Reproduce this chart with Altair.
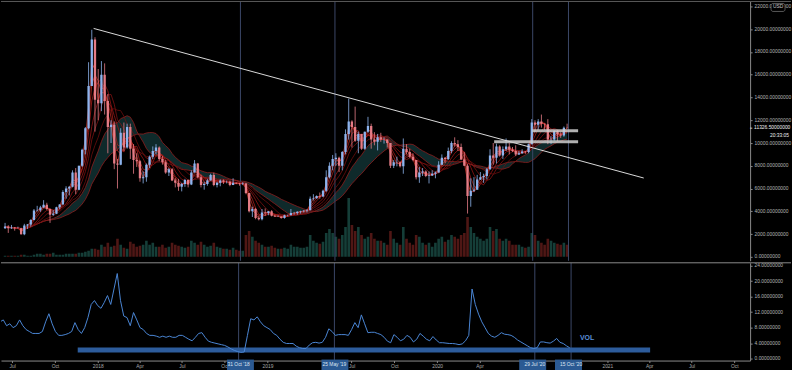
import altair as alt
import pandas as pd

# ---------------- data (weekly) ----------------
week_start = "2017-06-05"
first_open = 2500
closes = [
    2660, 2500, 2580, 2500, 2520, 1980, 2750, 2850, 3230, 4060, 4100, 4330, 4580, 4200, 3700,
    3780, 4360, 4600, 5700, 6000, 6150, 7400, 5900, 8000, 9400, 11300, 15000, 19100, 13800, 13500,
    16000, 13700, 11400, 11600, 8200, 8100, 10900, 9600, 11400, 9500, 8500, 8400, 6900, 7000, 8100,
    8800, 9300, 9600, 8600, 8300, 7400, 7700, 6700, 6500, 6150, 6400, 6750, 6350, 7400, 8200,
    7000, 6300, 6400, 6700, 7200, 6300, 6500, 6700, 6600, 6600, 6300, 6500, 6450, 6400, 6450,
    5600, 4000, 4200, 3400, 3300, 3900, 3850,
    4000, 3600, 3550, 3550, 3400, 3650, 3650, 3850, 3850, 3950, 4000, 4050, 4100, 5100, 5150,
    5350, 5300, 5800, 7000, 8000, 8600, 8700, 8000, 9200, 10800, 11900, 11400, 10200, 10800, 9500,
    11000, 11500, 10300, 10100, 10500, 10300, 10300, 10000, 8000, 8300, 8300, 7950, 9500, 9200, 8800,
    8500, 7000, 7400, 7500, 7100, 7150, 7300,
    7400, 8100, 8700, 8600, 9300, 10000, 9900, 9650, 8550, 8000, 5350, 5800, 5900, 6800, 7000,
    7100, 7700, 8900, 8700, 9700, 8900, 9450, 9700, 9400, 9300, 9000, 9100, 9250, 9200, 9900,
    11800, 11600, 11900, 11700, 11650, 10300, 10300, 11050, 10750, 10650, 11350, 11326.5,
]
highs = [
    2980, 2780, 2800, 2620, 2650, 2550, 2900, 2880, 3300, 4200, 4480, 4480, 4980, 4750, 4250,
    4100, 4400, 4620, 5850, 6200, 6200, 7600, 7800, 8000, 9500, 11400, 17100, 19950, 19300, 16500,
    17200, 17000, 14300, 12000, 11900, 8600, 11300, 11800, 11700, 11700, 9900, 9100, 8500, 7500, 8200,
    8900, 9700, 9900, 9700, 8850, 8500, 7800, 7800, 6900, 6850, 6500, 6850, 6800, 7600, 8500,
    8250, 7200, 6600, 6850, 7300, 7400, 6600, 6800, 6800, 6700, 6700, 6900, 6520, 6500, 6550,
    6500, 5600, 4400, 4300, 3600, 4200, 4250,
    4000, 4100, 3700, 3650, 3550, 3700, 3700, 4200, 3950, 4000, 4050, 4100, 4200, 5300, 5500,
    5400, 5650, 5900, 7600, 8300, 8950, 9100, 8800, 9300, 11200, 13900, 12000, 13200, 11000, 10800,
    11000, 12300, 11700, 10950, 10800, 10900, 10500, 10300, 10000, 8500, 8800, 8400, 10400, 9900, 9500,
    9100, 8500, 7900, 7800, 7600, 7500, 7600,
    7500, 8400, 9000, 8750, 9600, 10150, 10500, 10250, 9950, 9200, 8150, 6900, 7000, 7200, 7450,
    7300, 7800, 9450, 10000, 9950, 9800, 9700, 10400, 10000, 9650, 9800, 9300, 9450, 9300, 9950,
    12100, 12000, 12100, 12500, 11700, 12100, 10600, 11100, 11150, 10950, 11450, 11700,
]
lows = [
    2450, 2100, 2450, 2300, 2480, 1950, 1900, 2450, 2650, 3200, 3980, 3950, 4300, 4100, 2980,
    3600, 3750, 4180, 4600, 5100, 5400, 6100, 5500, 5850, 7900, 9000, 11200, 15000, 11000, 12000,
    12800, 12500, 9100, 10000, 7700, 6000, 8050, 9300, 9500, 8600, 7300, 7900, 6600, 6450, 6600,
    7800, 8600, 9000, 8400, 8100, 7300, 7100, 6650, 6100, 5800, 5750, 6150, 6100, 6300, 7400,
    6900, 6100, 5900, 6250, 6700, 6200, 6100, 6200, 6400, 6450, 6200, 6300, 6400, 6250, 6300,
    5500, 3900, 3500, 3300, 3200, 3200, 3600,
    3650, 3550, 3500, 3500, 3350, 3350, 3550, 3650, 3700, 3700, 3800, 3900, 3900, 4100, 4950,
    5100, 5100, 5250, 5700, 6900, 7600, 8000, 7450, 7600, 9000, 10300, 9600, 10100, 9100, 9400,
    9400, 10900, 9500, 9800, 9350, 10100, 9950, 9600, 7800, 7800, 7950, 7850, 7300, 9000, 8700,
    8400, 6800, 6500, 7100, 7000, 6450, 7100,
    6900, 7400, 8100, 8250, 8500, 9100, 9700, 9300, 8500, 8000, 3800, 4400, 5700, 5900, 6750,
    6500, 6800, 7650, 8100, 8200, 8800, 8600, 9300, 9000, 9200, 8850, 8950, 9050, 9050, 9100,
    9900, 10950, 11150, 11350, 11150, 9900, 9900, 10200, 10150, 10450, 10550, 11250,
]
# volume (relative units)
volumes = [
    1, 1, 1, 1, 1, 2, 2, 1, 1, 2, 3, 3, 2, 3, 3, 4, 2, 2, 2, 3, 3, 3, 3, 4, 4, 5, 6, 8, 8, 7,
    12, 10, 14, 10, 11, 18, 12, 9, 8, 15, 13, 10, 11, 12, 16, 12, 14, 10, 10, 12, 9, 10,
    14, 12, 11, 10, 9, 10, 16, 14, 12, 15, 12, 10, 11, 14, 10, 9, 8, 8, 7, 9, 7, 6, 6, 22, 26, 20, 16, 14, 12, 10,
    10, 11, 9, 8, 8, 9, 8, 12, 10, 10, 9, 9, 10, 22, 16, 14, 13, 15, 24, 28, 24, 20,
    18, 22, 30, 59, 32, 26, 30, 22, 18, 20, 24, 18, 16, 16, 14, 12, 26, 18, 14, 12, 30, 18, 14, 12, 22, 20, 14, 12, 14, 10,
    14, 18, 20, 15, 17, 22, 20, 18, 22, 24, 40, 30, 24, 20, 18, 16, 18, 30, 26, 28, 18, 16,
    18, 16, 12, 12, 12, 10, 9, 10, 24, 22, 16, 14, 12, 18, 16, 14, 13, 12, 14, 12,
]
# historical volatility (lower pane)
hist_vol = [
    9.5, 10, 8.5, 9, 8, 8.5, 10, 8.5, 7.5, 7, 6.5, 6.5, 6.5, 7, 9.5, 11.6, 9, 7, 6, 6, 6.2, 6.5, 7, 9.3, 7.5, 6.5, 8, 10.6, 14, 15,
    13.7, 13, 14.5, 16.3, 14, 18, 22, 15, 11, 10.6, 8.5, 11.9, 10, 8, 7.5, 6.5, 6, 6, 5.8, 5.5, 5.8, 5.5,
    5.8, 5.5, 5.5, 6, 6, 5.5, 5, 4.6, 5.5, 6.5, 6.7, 5.5, 4.5, 4.2, 4, 3.8, 3.6, 3.4, 3, 2.5, 2.1, 1.8, 1.6, 1.7, 6, 10.3, 10, 10.8, 9.5, 8.5,
    8, 7.5, 6.5, 6, 5, 4.2, 3.9, 3.9, 3.9, 3.2, 2.8, 2.6, 2.6, 3.5, 4.1, 4.2, 4, 4.2, 5.5, 7.7, 7, 6,
    6.2, 6.2, 6.2, 6, 7.5, 9.3, 8, 11.3, 9, 6.7, 6.8, 6.8, 6.5, 6.2, 5.5, 4.5, 4.1, 6.2, 5.5, 4.6, 5, 6, 5.5, 4.3, 5, 6.5, 5.8, 5, 4.6, 5.7,
    4.8, 4.1, 4.1, 4, 3.9, 3.9, 3.8, 3.6, 3.8, 4.6, 6, 18, 14, 11.5, 9.5, 8, 6.5, 5.8, 5.5, 6, 6.7, 6.3,
    6.2, 6, 5.5, 4.8, 4.3, 3.8, 3.3, 2.8, 2.6, 2.8, 4.3, 4.3, 4.1, 4, 4.5, 5.2, 4.2, 3.9, 3.3, 2.8,
]

trend_dates = ["2017-12-15", "2021-03-28"]
trend_prices = [20070, 6924]

zone_starts = ["2020-07-28", "2020-05-06"]
zone_ends = ["2020-11-05", "2020-11-05"]
zone_lows = [10950, 9990]
zone_highs = [11220, 10250]

marker_dates = ["2018-10-31", "2019-05-25", "2020-07-29", "2020-10-15"]
marker_labels = ["31 Oct '18", "25 May '19", "29 Jul '20", "15 Oct '20"]

band_start, band_end = "2017-11-19", "2021-04-03"
band_low, band_high = 1.55, 2.84

price_ticks = list(range(0, 22001, 2000))
vol_ticks = [0, 4, 8, 12, 16, 20, 24]
# quarter ticks left visible (the ones under the date badges are covered)
time_ticks = [(2017, 7), (2017, 10), (2018, 1), (2018, 4), (2018, 7), (2018, 10),
              (2019, 1), (2019, 7), (2019, 10), (2020, 1), (2020, 4),
              (2021, 1), (2021, 4), (2021, 7), (2021, 10)]

last_price = 11326.5
last_price_label = "11326.50000000"
countdown = "20:33:05"

# ---------------- tables ----------------
dates = pd.date_range(week_start, periods=len(closes), freq="7D")
opens = [first_open] + closes[:-1]
df = pd.DataFrame({"date": dates, "open": opens, "high": highs, "low": lows,
                   "close": closes, "volume": volumes, "hv": hist_vol})
trend_df = pd.DataFrame({"date": pd.to_datetime(trend_dates), "price": trend_prices})
zone_df = pd.DataFrame({"start": pd.to_datetime(zone_starts), "end": pd.to_datetime(zone_ends),
                        "lo": zone_lows, "hi": zone_highs})
mark_df = pd.DataFrame({"date": pd.to_datetime(marker_dates), "label": marker_labels})
band_df = pd.DataFrame({"start": [pd.Timestamp(band_start)], "end": [pd.Timestamp(band_end)],
                        "lo": [band_low], "hi": [band_high]})
last_df = pd.DataFrame({"price": [last_price], "label": [last_price_label], "cd": [countdown]})
vol_label_df = pd.DataFrame({"date": [pd.Timestamp("2020-11-03")], "v": [5.2], "t": ["VOL"]})
ptick_df = pd.DataFrame({"v": price_ticks})
htick_df = pd.DataFrame({"v": vol_ticks})

W = 751
H_TOP = 260
H_BOT = 98
FONT = "Liberation Sans"
AX = "#8a8a8a"
LAB = "#b4b4b4"
FS = 4.9


def xscale():
    return alt.Scale(domain=[alt.DateTime(year=2017, month=6, date=7),
                             alt.DateTime(year=2021, month=11, date=4)])


def pscale():
    return alt.Scale(domain=[-351, 22438], nice=False, zero=False)


def hscale():
    return alt.Scale(domain=[-0.516, 24.774], nice=False, zero=False)


vscale = alt.Scale(domain=[-4, 256], nice=False, zero=False)


def XT(field="date:T"):
    return alt.X(field, scale=xscale(), axis=None)


def PY(field):
    return alt.Y(field, scale=pscale(), axis=None)


def HY(field):
    return alt.Y(field, scale=hscale(), axis=None)


# ---------------- price pane ----------------
price_axis = alt.Chart(ptick_df).mark_point(opacity=0, size=1).encode(
    x=alt.value(0),
    y=alt.Y("v:Q", scale=pscale(), axis=alt.Axis(
        orient="right", values=price_ticks, format=".8f", title=None, zindex=0,
        labelColor=LAB, labelFont=FONT, labelFontSize=FS, tickColor=AX, tickSize=2,
        domainColor=AX, labelPadding=2, grid=False)))

base = alt.Chart(df)
for k in [2, 3, 4, 6, 8, 11, 14, 22]:
    base = base.transform_window(**{f"ma{k}": "mean(close)"}, frame=[-(k - 1), 0],
                                 sort=[alt.SortField("date", order="ascending")])

cloud = base.mark_area(color="#112f30", opacity=0.9, clip=True).encode(
    x=XT(), y=PY("ma14:Q"), y2="ma22:Q")

cloud_lines = base.transform_fold(["ma14", "ma22"], as_=["ma", "val"]).mark_line(
    color="#8e1e1e", strokeWidth=0.8, clip=True).encode(
    x=XT(), y=PY("val:Q"), detail="ma:N")

guppy = base.transform_fold(["ma2", "ma3", "ma4", "ma6", "ma8", "ma11"], as_=["ma", "val"]).mark_line(
    strokeWidth=0.8, opacity=0.9, clip=True).encode(
    x=XT(), y=PY("val:Q"),
    color=alt.Color("ma:N", legend=None, scale=alt.Scale(
        domain=["ma2", "ma3", "ma4", "ma6", "ma8", "ma11"],
        range=["#e03a2a", "#cc2a22", "#b8201c", "#a31818", "#8c1414", "#761010"])))

candle_color = alt.condition("datum.close >= datum.open", alt.value("#8db4ee"), alt.value("#e47c86"))
wicks = alt.Chart(df).mark_rule(strokeWidth=0.8, clip=True).encode(
    x=XT(), y=PY("low:Q"), y2="high:Q", color=candle_color)
bodies = alt.Chart(df).mark_bar(size=2.3, clip=True).encode(
    x=XT(), y=PY("open:Q"), y2="close:Q", color=candle_color)

trend = alt.Chart(trend_df).mark_line(color="#d9d9d9", strokeWidth=1, clip=True).encode(
    x=XT(), y=PY("price:Q"))

zones = alt.Chart(zone_df).mark_rect(color="#cfcfcf", opacity=0.85).encode(
    x=XT("start:T"), x2="end:T", y=PY("lo:Q"), y2="hi:Q")

vlines_top = alt.Chart(mark_df).mark_rule(color="#3b4767", strokeWidth=1).encode(x=XT())

last_txt = alt.Chart(last_df).mark_text(
    align="left", baseline="middle", font=FONT, fontSize=FS, color="#f0f0f0").encode(
    x=alt.value(W + 4), y=PY("price:Q"), text="label:N")
last_tick = alt.Chart(last_df).mark_text(
    align="left", baseline="middle", font=FONT, fontSize=4, color="#f0f0f0").encode(
    x=alt.value(W), y=PY("price:Q"), text=alt.value("="))
countdown_txt = alt.Chart(last_df).mark_text(
    align="right", baseline="middle", font=FONT, fontSize=FS, color="#f0f0f0", dy=8).encode(
    x=alt.value(790), y=PY("price:Q"), text="cd:N")
usd_box = alt.Chart(last_df).mark_rect(fill="#000000", stroke="#6f6f6f", strokeWidth=0.8,
                                       cornerRadius=2).encode(
    x=alt.value(772), x2=alt.value(786), y=alt.value(2), y2=alt.value(10))
usd_txt = alt.Chart(last_df).mark_text(font=FONT, fontSize=FS, color="#c8c8c8",
                                       baseline="middle").encode(
    x=alt.value(779), y=alt.value(6), text=alt.value("USD"))
top_border = alt.Chart(last_df).mark_rule(color="#5a5a5a", strokeWidth=1).encode(
    y=alt.value(0), x=alt.value(0), x2=alt.value(792))

vol_bars = alt.Chart(df).mark_bar(size=2.6, opacity=0.45, clip=True).encode(
    x=XT(), y=alt.Y("volume:Q", scale=vscale, axis=None), y2=alt.datum(0),
    color=alt.condition("datum.close >= datum.open", alt.value("#2e8a7c"), alt.value("#b0322e")))

top = alt.layer(price_axis, vol_bars, cloud, cloud_lines, vlines_top, guppy, wicks, bodies,
                trend, zones, last_txt, last_tick, countdown_txt, usd_box, usd_txt,
                top_border).resolve_scale(y="independent").properties(width=W, height=H_TOP)

# ---------------- volatility pane ----------------
label_expr = "month(datum.value) == 0 ? timeFormat(datum.value, '%Y') : timeFormat(datum.value, '%b')"
axis_layer = alt.Chart(htick_df).mark_point(opacity=0, size=1).encode(
    x=alt.X("t:T", scale=xscale(), axis=alt.Axis(
        values=[alt.DateTime(year=y, month=m, date=1) for y, m in time_ticks],
        labelExpr=label_expr, title=None, labelColor="#a8a8a8", labelFont=FONT,
        labelFontSize=FS, tickColor=AX, tickSize=2, domainColor=AX, labelPadding=1,
        grid=False, labelFlush=False, zindex=0)),
    y=alt.Y("v:Q", scale=hscale(), axis=alt.Axis(
        orient="right", values=vol_ticks, format=".8f", title=None, zindex=0,
        labelColor=LAB, labelFont=FONT, labelFontSize=FS, tickColor=AX, tickSize=2,
        domainColor=AX, labelPadding=2, grid=False))).transform_calculate(
    t="datetime(2019, 0, 1)")

hv_line = alt.Chart(df).mark_line(color="#4a86d4", strokeWidth=1, clip=True).encode(
    x=XT(), y=HY("hv:Q"))
vlines_bot = alt.Chart(mark_df).mark_rule(color="#3b4767", strokeWidth=1).encode(x=XT())
band = alt.Chart(band_df).mark_rect(color="#2d5c9c").encode(
    x=XT("start:T"), x2="end:T", y=HY("lo:Q"), y2="hi:Q")
vol_txt = alt.Chart(vol_label_df).mark_text(font=FONT, fontSize=7, fontWeight="bold",
                                            color="#5b8fd8", align="left").encode(
    x=XT(), y=HY("v:Q"), text="t:N")
sep = alt.Chart(band_df).mark_rule(color="#8a8a8a", strokeWidth=1).encode(
    y=alt.value(0), x=alt.value(0), x2=alt.value(792))
badge_box = alt.Chart(mark_df).mark_bar(size=27, color="#2b5a93").encode(
    x=XT(), y=alt.value(H_BOT - 1), y2=alt.value(H_BOT + 10))
badge_txt = alt.Chart(mark_df).mark_text(font=FONT, fontSize=FS, color="#dfe6f2",
                                         baseline="middle").encode(
    x=XT(), y=alt.value(H_BOT + 4.5), text="label:N")

bottom = alt.layer(axis_layer, vlines_bot, band, hv_line, vol_txt, sep, badge_box, badge_txt
                   ).resolve_scale(x="independent", y="independent").properties(
    width=W, height=H_BOT)

chart = alt.vconcat(top, bottom, spacing=0).configure(
    background="#000000", padding=0).configure_view(strokeWidth=0)

chart.save("out.html", embed_options={"renderer": "svg", "actions": False})
